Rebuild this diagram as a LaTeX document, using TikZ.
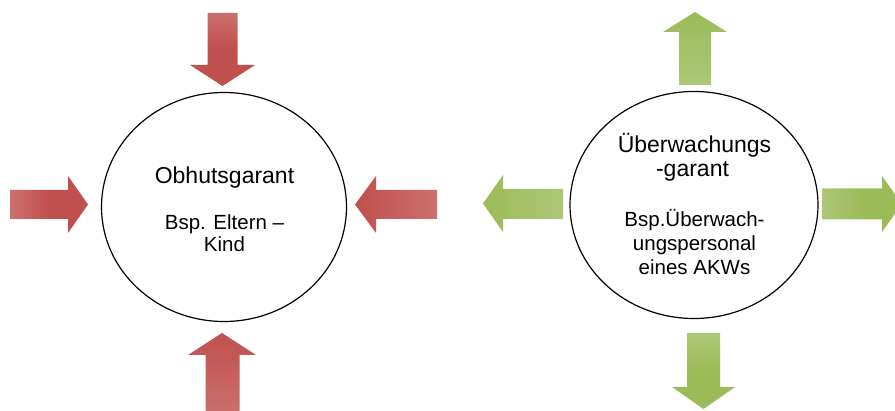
\documentclass[tikz,border=0pt]{standalone}
\usepackage{fontspec}
\setmainfont{Liberation Sans}
\usetikzlibrary{shapes.geometric}
\definecolor{rot}{HTML}{C0504D}
\colorlet{rothell}{rot!82!white}
\definecolor{gruen}{HTML}{9BBB59}
\colorlet{gruenhell}{gruen!82!white}
\begin{document}
\begin{tikzpicture}[x=1pt,y=-1pt,
  garant/.style={draw=black,line width=1.2pt,ellipse,inner sep=0pt},
  titel/.style={font=\fontsize{23}{25}\selectfont,anchor=base,inner sep=0pt},
  beispiel/.style={font=\fontsize{20.5}{22}\selectfont,anchor=base,inner sep=0pt},
  rotv/.style={top color=rothell,bottom color=rot,middle color=rot},
  roth/.style={left color=rothell,right color=rot,middle color=rot},
  gruenv/.style={top color=gruenhell,bottom color=gruen,middle color=gruen},
  gruenh/.style={left color=gruenhell,right color=gruen,middle color=gruen}]
\useasboundingbox (0,0) rectangle (895,411);
% Obhutsgarant
\node[garant,minimum width=245pt,minimum height=229pt] (obhut) at (224,207) {};
\node[titel] (obhut-titel) at (224.5,183.5) {Obhutsgarant};
\node[beispiel] (obhut-bsp1) at (224.5,230) {Bsp. Eltern --};
\node[beispiel] (obhut-bsp2) at (224.5,252) {Kind};
\path[rotv] (207.5,13) -- (237.5,13) -- (237.5,65) -- (255,65) -- (222.5,86)
  -- (190,65) -- (207.5,65) -- cycle;
\path[rotv,top color=rot,bottom color=rothell] (205.5,415) -- (239.5,415) -- (239.5,355) -- (256,355)
  -- (222,333) -- (188,355) -- (205.5,355) -- cycle;
\path[roth] (10,190) -- (68,190) -- (68,176) -- (88,204.5) -- (68,233) -- (68,219)
  -- (10,219) -- cycle;
\path[roth,left color=rot,right color=rothell] (437,190) -- (376,190) -- (376,176) -- (355,204.5)
  -- (376,233) -- (376,219) -- (437,219) -- cycle;
% Ueberwachungsgarant
\node[garant,minimum width=248pt,minimum height=227pt] (ueber) at (694,205) {};
\node[titel] (ueber-titel1) at (694.5,153) {Überwachungs};
\node[titel] (ueber-titel2) at (692.5,177) {-garant};
\node[beispiel] (ueber-bsp1) at (694.5,227) {Bsp.Überwach-};
\node[beispiel] (ueber-bsp2) at (694.5,251) {ungspersonal};
\node[beispiel] (ueber-bsp3) at (694.5,275) {eines AKWs};
\path[gruenv,top color=gruen,bottom color=gruenhell] (679,85) -- (711,85) -- (711,32) -- (727,32)
  -- (695,12) -- (663,32) -- (679,32) -- cycle;
\path[gruenv] (687,333) -- (720,333) -- (720,387) -- (735,387) -- (703.5,409)
  -- (672,387) -- (687,387) -- cycle;
\path[gruenh,left color=gruen,right color=gruenhell] (563,189) -- (503,189) -- (503,175) -- (483,203.5)
  -- (503,232) -- (503,219) -- (563,219) -- cycle;
\path[gruenh] (822,188.5) -- (882,188.5) -- (882,176) -- (902,204) -- (882,232)
  -- (882,219.5) -- (822,219.5) -- cycle;
\end{tikzpicture}
\end{document}
